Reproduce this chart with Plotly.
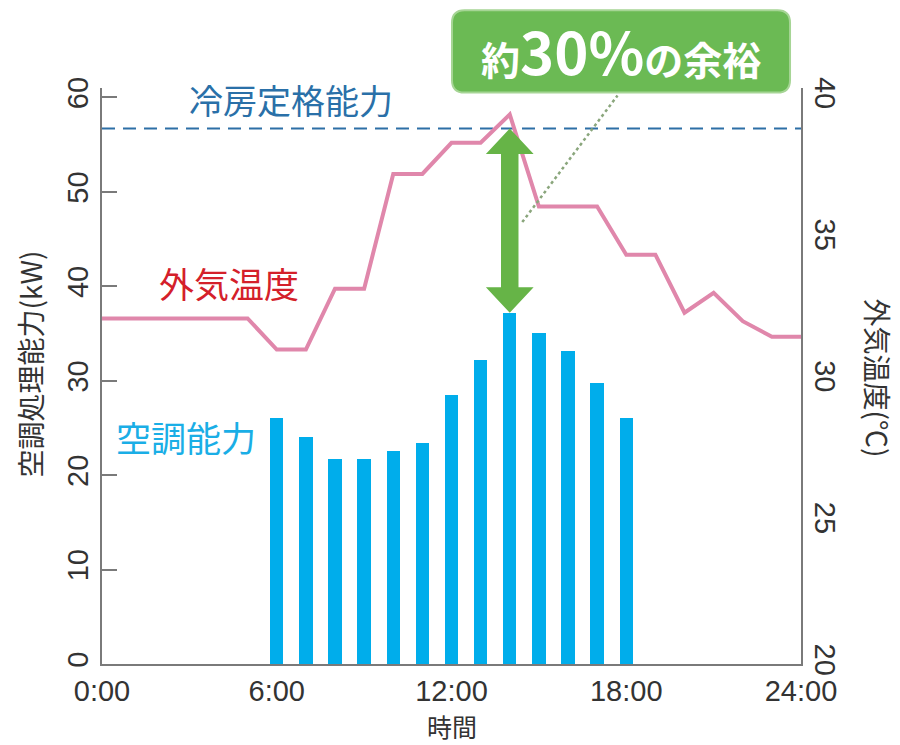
import plotly.graph_objects as go

# ---------------- data ----------------
bar_hours = [6, 7, 8, 9, 10, 11, 12, 13, 14, 15, 16, 17, 18]
bar_kw = [26.0, 24.0, 21.7, 21.7, 22.6, 23.4, 28.5, 32.2, 37.2, 35.1, 33.1, 29.8, 26.0]

temp_hours = list(range(0, 25))
temp_c = [32.2, 32.2, 32.2, 32.2, 32.2, 32.2, 31.1, 31.1, 33.25, 33.25, 37.3, 37.3,
          38.4, 38.4, 39.4, 36.15, 36.15, 36.15, 34.45, 34.45, 32.4, 33.1, 32.1, 31.55, 31.55]

rated_kw = 56.7
x_tickvals = [0, 6, 12, 18, 24]
x_ticktext = ["0:00", "6:00", "12:00", "18:00", "24:00"]
y_tickvals = [0, 10, 20, 30, 40, 50, 60]
y2_tickvals = [20, 25, 30, 35, 40]

FONT = "Liberation Sans, Arial, Noto Sans CJK JP, sans-serif"
JP = "Noto Sans CJK JP, sans-serif"
Y_MAX = 61.0
Y2_MIN = 20.0
Y2_MAX = Y2_MIN + Y_MAX / 3.0

fig = go.Figure()

fig.add_trace(go.Bar(x=bar_hours, y=bar_kw, width=0.46,
                     marker=dict(color="#00adeb", line=dict(width=0)),
                     showlegend=False))

fig.add_trace(go.Scatter(x=[0, 24], y=[rated_kw, rated_kw], mode="lines",
                         line=dict(color="#2d6fa6", width=2, dash="13px,8px"),
                         showlegend=False))

fig.add_trace(go.Scatter(x=temp_hours, y=temp_c, yaxis="y2", mode="lines",
                         line=dict(color="#e087ab", width=4),
                         showlegend=False))

# green double arrow from rated line down to peak bar
peak_i = bar_kw.index(max(bar_kw))
ax = bar_hours[peak_i]
top = rated_kw
bot = bar_kw[peak_i]
sw, hw, hh = 0.30, 0.82, 2.7
arrow_path = (f"M {ax},{top} L {ax+hw},{top-hh} L {ax+sw},{top-hh} L {ax+sw},{bot+hh} "
              f"L {ax+hw},{bot+hh} L {ax},{bot} L {ax-hw},{bot+hh} L {ax-sw},{bot+hh} "
              f"L {ax-sw},{top-hh} L {ax-hw},{top-hh} Z")
fig.add_shape(type="path", path=arrow_path, xref="x", yref="y",
              fillcolor="#66b447", line=dict(width=0), layer="above")

# dotted leader
fig.add_shape(type="line", xref="x", yref="y", x0=14.43, y0=46.8, x1=17.7, y1=60.2,
              line=dict(color="#8aa67c", width=2.5, dash="dot"), layer="above")

# rounded callout box (paper coords)
x0, x1, y0, y1 = 0.5007, 0.9843, 0.992, 1.135
rx, ry = 0.018, 0.022
box = (f"M {x0+rx},{y0} L {x1-rx},{y0} Q {x1},{y0} {x1},{y0+ry} L {x1},{y1-ry} "
       f"Q {x1},{y1} {x1-rx},{y1} L {x0+rx},{y1} Q {x0},{y1} {x0},{y1-ry} "
       f"L {x0},{y0+ry} Q {x0},{y0} {x0+rx},{y0} Z")
fig.add_shape(type="path", path=box, xref="paper", yref="paper",
              fillcolor="#6bba54", line=dict(color="#a6d595", width=2), layer="above")

fig.add_annotation(x=(x0 + x1) / 2, y=(y0 + y1) / 2 + 0.003, xref="paper", yref="paper",
                   text="<b>約<span style='font-size:58px'>30%</span>の余裕</b>",
                   showarrow=False, font=dict(family=JP, size=39, color="white"),
                   xanchor="center", yanchor="middle")

# series labels
fig.add_annotation(x=6.5, y=59.8, xref="x", yref="y", text="冷房定格能力", showarrow=False,
                   font=dict(family=JP, size=34, color="#2a70a8"), xanchor="center", yanchor="middle")
fig.add_annotation(x=4.36, y=40.4, xref="x", yref="y", text="外気温度", showarrow=False,
                   font=dict(family=JP, size=35, color="#d4202a"), xanchor="center", yanchor="middle")
fig.add_annotation(x=2.9, y=24.1, xref="x", yref="y", text="空調能力", showarrow=False,
                   font=dict(family=JP, size=35, color="#1aaee6"), xanchor="center", yanchor="middle")

# axis titles
fig.add_annotation(x=-0.103, y=0.52, xref="paper", yref="paper", text="空調処理能力(kW)",
                   textangle=-90, showarrow=False, font=dict(family=JP, size=28, color="#333"),
                   xanchor="center", yanchor="middle")
fig.add_annotation(x=1.11, y=0.496, xref="paper", yref="paper", text="外気温度(℃)",
                   textangle=90, showarrow=False, font=dict(family=JP, size=28, color="#333"),
                   xanchor="center", yanchor="middle")
fig.add_annotation(x=0.5, y=-0.1076, xref="paper", yref="paper", text="時間",
                   showarrow=False, font=dict(family=JP, size=25, color="#333"),
                   xanchor="center", yanchor="middle")

axis_common = dict(showgrid=False, zeroline=False, showline=True, linecolor="#7a7a7a",
                   linewidth=2, tickfont=dict(family=FONT, size=29, color="#333"))

fig.update_layout(
    width=900, height=745,
    margin=dict(l=102, r=99, t=88, b=81),
    paper_bgcolor="white", plot_bgcolor="white",
    xaxis=dict(range=[0, 24], tickvals=x_tickvals, ticktext=x_ticktext, ticks="",
               **axis_common),
    yaxis=dict(range=[0, Y_MAX], tickvals=y_tickvals, ticks="inside", ticklen=15,
               tickwidth=2, tickcolor="#7a7a7a", tickangle=-90, **axis_common),
    yaxis2=dict(range=[Y2_MIN, Y2_MAX], tickvals=y2_tickvals, overlaying="y", side="right",
                ticks="", tickangle=90, **axis_common),
    bargap=0,
)

fig.write_html("out.html")
